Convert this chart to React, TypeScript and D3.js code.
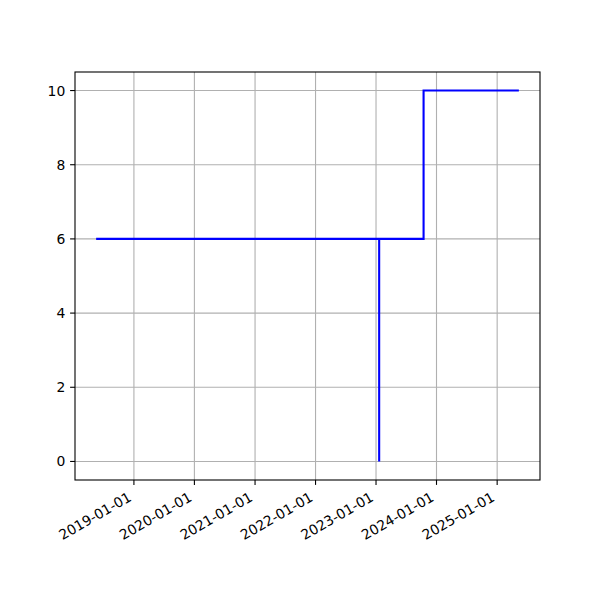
import React from "react";
import * as d3 from "d3";

const dates = ["2018-05-18", "2023-01-20", "2023-01-20", "2023-10-15", "2025-05-12"];
const values = [6, 0, 6, 10, 10];
const xTickLabels = ["2019-01-01", "2020-01-01", "2021-01-01", "2022-01-01", "2023-01-01", "2024-01-01", "2025-01-01"];
const yTicks = [0, 2, 4, 6, 8, 10];

const parse = d3.utcParse("%Y-%m-%d");

export default function App() {
  const W = 600, H = 600;
  const left = 75, right = 540, top = 72, bottom = 480;
  const pts = dates.map((d, i) => ({ t: parse(d) as Date, v: values[i] }));
  const tMin = pts[0].t.getTime(), tMax = pts[pts.length - 1].t.getTime();
  const span = tMax - tMin;
  const x = d3.scaleUtc().domain([new Date(tMin - span * 0.05), new Date(tMax + span * 0.05)]).range([left, right]);
  const y = d3.scaleLinear().domain([-0.5, 10.5]).range([bottom, top]);
  const line = d3.line<{ t: Date; v: number }>().x(d => x(d.t)).y(d => y(d.v)).curve(d3.curveStepAfter);
  const fs = 13.9;
  return (
    <svg width={W} height={H} style={{ position: "absolute", left: 0, top: 0, background: "#fff" }} fontFamily="DejaVu Sans">
      <rect x={0} y={0} width={W} height={H} fill="#fff" />
      {xTickLabels.map(l => {
        const px = x(parse(l) as Date);
        return <line key={"gx" + l} x1={px} x2={px} y1={top} y2={bottom} stroke="#b0b0b0" strokeWidth={1.1} />;
      })}
      {yTicks.map(v => (
        <line key={"gy" + v} x1={left} x2={right} y1={y(v)} y2={y(v)} stroke="#b0b0b0" strokeWidth={1.1} />
      ))}
      <path d={line(pts) || ""} fill="none" stroke="blue" strokeWidth={2.1} />
      <rect x={left} y={top} width={right - left} height={bottom - top} fill="none" stroke="#000" strokeWidth={1.1} />
      {xTickLabels.map(l => {
        const px = x(parse(l) as Date);
        const ty = bottom + 20;
        return (
          <g key={"tx" + l}>
            <line x1={px} x2={px} y1={bottom} y2={bottom + 4.9} stroke="#000" strokeWidth={1.1} />
            <text x={px - 1.5} y={ty} fontSize={fs} textAnchor="end" transform={`rotate(-30, ${px - 1.5}, ${ty})`}>{l}</text>
          </g>
        );
      })}
      {yTicks.map(v => (
        <g key={"ty" + v}>
          <line x1={left - 4.9} x2={left} y1={y(v)} y2={y(v)} stroke="#000" strokeWidth={1.1} />
          <text x={left - 9.7} y={y(v)} fontSize={fs} textAnchor="end" dominantBaseline="central">{v}</text>
        </g>
      ))}
    </svg>
  );
}
